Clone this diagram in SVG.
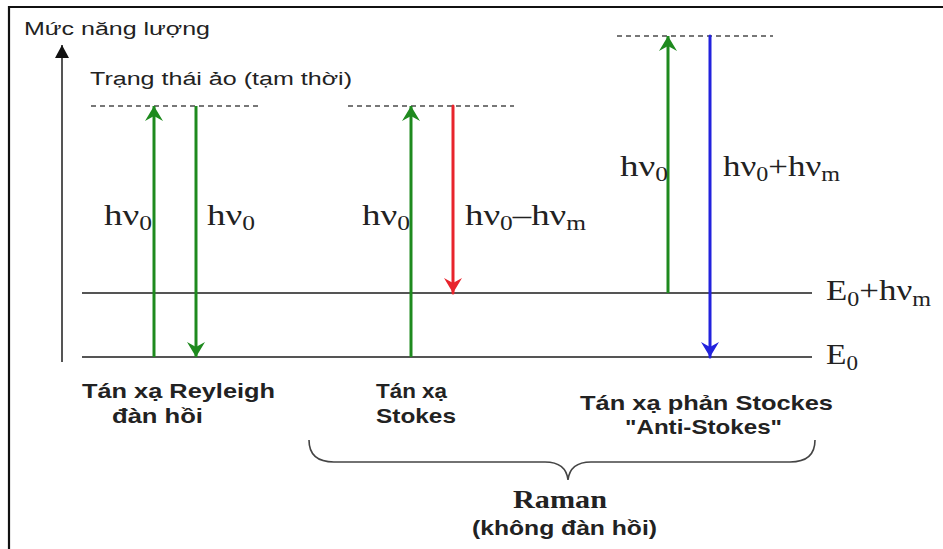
<svg xmlns="http://www.w3.org/2000/svg" width="943" height="549" viewBox="0 0 943 549">
<defs>
<style>
.sans{font-family:"Liberation Sans",Arial,sans-serif;fill:#222}
.b{font-weight:bold}
.serif{font-family:"Liberation Serif","Times New Roman",serif;fill:#222;font-size:29px}
.sub{font-size:20px}
.lvl{stroke:#555;stroke-width:2;fill:none}
.dash{stroke:#777;stroke-width:2;stroke-dasharray:5 4;fill:none}
.g{stroke:#1e8a1e;stroke-width:3;fill:none}
.r{stroke:#e8242c;stroke-width:3;fill:none}
.bl{stroke:#2222dd;stroke-width:3;fill:none}
</style>
<marker id="ag" viewBox="0 0 15 18" refX="15" refY="9" markerWidth="15" markerHeight="18" markerUnits="userSpaceOnUse" orient="auto"><path d="M0,0 L15,9 L0,18 L5,9 Z" fill="#1e8a1e"/></marker>
<marker id="ar" viewBox="0 0 15 18" refX="15" refY="9" markerWidth="15" markerHeight="18" markerUnits="userSpaceOnUse" orient="auto"><path d="M0,0 L15,9 L0,18 L5,9 Z" fill="#e8242c"/></marker>
<marker id="ab" viewBox="0 0 15 18" refX="15" refY="9" markerWidth="15" markerHeight="18" markerUnits="userSpaceOnUse" orient="auto"><path d="M0,0 L15,9 L0,18 L5,9 Z" fill="#2222dd"/></marker>
<marker id="ak" viewBox="0 0 13 14" refX="13" refY="7" markerWidth="13" markerHeight="14" markerUnits="userSpaceOnUse" orient="auto"><path d="M0,0 L13,7 L0,14 Z" fill="#111"/></marker>
</defs>
<rect width="943" height="549" fill="#fff"/>
<path d="M9,549 L9,7 L943,7" stroke="#111" stroke-width="2.2" fill="none"/>

<g id="axis">
<line x1="62" y1="362" x2="62" y2="45" stroke="#555" stroke-width="2" marker-end="url(#ak)"/>
<text class="sans" x="24" y="35" font-size="18" textLength="186" lengthAdjust="spacingAndGlyphs">Mức năng lượng</text>
</g>

<g id="levels">
<line class="lvl" x1="82" y1="293" x2="812" y2="293"/>
<line class="lvl" x1="82" y1="357" x2="812" y2="357"/>
<line class="dash" x1="91" y1="106" x2="258" y2="106"/>
<line class="dash" x1="348" y1="106" x2="514" y2="106"/>
<line class="dash" x1="617" y1="36" x2="773" y2="36"/>
<text class="sans" x="90" y="85" font-size="18" textLength="262" lengthAdjust="spacingAndGlyphs">Trạng thái ảo (tạm thời)</text>
<text class="serif" x="826" y="300" textLength="105" lengthAdjust="spacingAndGlyphs">E<tspan class="sub" dy="6">0</tspan><tspan dy="-6">+hν</tspan><tspan class="sub" dy="6">m</tspan></text>
<text class="serif" x="826" y="364" textLength="32" lengthAdjust="spacingAndGlyphs">E<tspan class="sub" dy="6">0</tspan></text>
</g>

<g id="connectors">
<line class="g" x1="154" y1="357" x2="154" y2="106" marker-end="url(#ag)"/>
<line class="g" x1="196" y1="106" x2="196" y2="357" marker-end="url(#ag)"/>
<line class="g" x1="411" y1="357" x2="411" y2="106" marker-end="url(#ag)"/>
<line class="r" x1="453" y1="106" x2="453" y2="293" marker-end="url(#ar)" stroke-linecap="round"/>
<line class="g" x1="668" y1="293" x2="668" y2="36" marker-end="url(#ag)"/>
<line class="bl" x1="710" y1="36" x2="710" y2="357" marker-end="url(#ab)" stroke-linecap="round"/>
</g>

<g id="rayleigh">
<text class="serif" x="104" y="225" textLength="48" lengthAdjust="spacingAndGlyphs">hν<tspan class="sub" dy="5">0</tspan></text>
<text class="serif" x="207" y="225" textLength="48" lengthAdjust="spacingAndGlyphs">hν<tspan class="sub" dy="5">0</tspan></text>
<text class="sans b" x="82" y="398" font-size="21" textLength="193" lengthAdjust="spacingAndGlyphs">Tán xạ Reyleigh</text>
<text class="sans b" x="112" y="423" font-size="21" textLength="91" lengthAdjust="spacingAndGlyphs">đàn hồi</text>
</g>

<g id="stokes">
<text class="serif" x="362" y="225" textLength="48" lengthAdjust="spacingAndGlyphs">hν<tspan class="sub" dy="5">0</tspan></text>
<text class="serif" x="465" y="225" textLength="121" lengthAdjust="spacingAndGlyphs">hν<tspan class="sub" dy="5">0</tspan><tspan dy="-5">–hν</tspan><tspan class="sub" dy="5">m</tspan></text>
<text class="sans b" x="376" y="398" font-size="21" textLength="71" lengthAdjust="spacingAndGlyphs">Tán xạ</text>
<text class="sans b" x="376" y="423" font-size="21" textLength="80" lengthAdjust="spacingAndGlyphs">Stokes</text>
</g>

<g id="antistokes">
<text class="serif" x="620" y="176" textLength="48" lengthAdjust="spacingAndGlyphs">hν<tspan class="sub" dy="5">0</tspan></text>
<text class="serif" x="723" y="176" textLength="117" lengthAdjust="spacingAndGlyphs">hν<tspan class="sub" dy="5">0</tspan><tspan dy="-5">+hν</tspan><tspan class="sub" dy="5">m</tspan></text>
<text class="sans b" x="580" y="410" font-size="21" textLength="253" lengthAdjust="spacingAndGlyphs">Tán xạ phản Stockes</text>
<text class="sans b" x="625" y="434" font-size="21" textLength="157" lengthAdjust="spacingAndGlyphs">"Anti-Stokes"</text>
</g>

<g id="raman">
<path d="M309,440 Q309,462 334,462 L545,462 Q566,462 568,480 Q570,462 591,462 L790,462 Q815,462 815,440" stroke="#444" stroke-width="1.6" fill="none"/>
<text x="513" y="508" font-family="Liberation Serif,'Times New Roman',serif" font-weight="bold" font-size="25" fill="#222" textLength="94" lengthAdjust="spacingAndGlyphs">Raman</text>
<text class="sans b" x="472" y="535" font-size="20" textLength="185" lengthAdjust="spacingAndGlyphs">(không đàn hồi)</text>
</g>
</svg>
